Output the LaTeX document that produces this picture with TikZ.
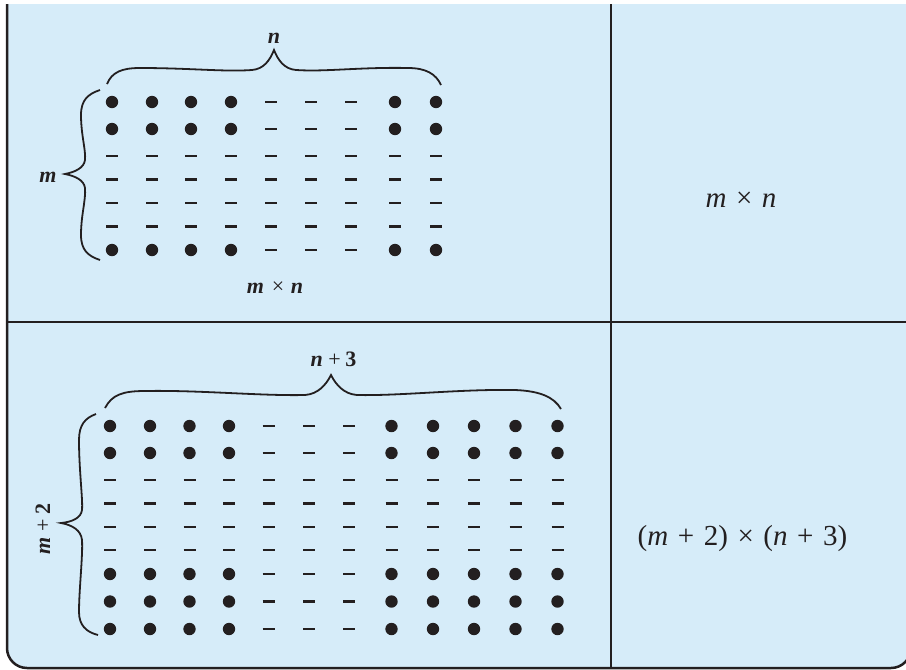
\documentclass[tikz,border=0pt]{standalone}
\usepackage{fontspec}
\setmainfont{Liberation Serif}
\definecolor{panel}{RGB}{214,236,249}
\definecolor{ink}{RGB}{35,31,32}
\begin{document}
\begin{tikzpicture}[x=1pt,y=-1pt,
  dot/.style={fill=ink},
  dashmark/.style={draw=ink, line width=2.4pt},
  bracepath/.style={draw=ink, line width=1.8pt},
  rule/.style={draw=ink, line width=2pt},
  biglabel/.style={font=\fontsize{29}{34}\selectfont, text=ink, inner sep=0pt, anchor=base},
  smalllabel/.style={font=\fontsize{22}{26}\selectfont\bfseries, text=ink, inner sep=0pt, anchor=base}]
\useasboundingbox (0,0) rectangle (906,670);
\begin{scope}
  \clip (0,4) rectangle (906,670);
  \draw[fill=panel, draw=ink, line width=2.5pt, rounded corners=20pt] (7,-40) rectangle (911,668);
\end{scope}
% dividers
\draw[rule] (611,4) -- (611,668);
\draw[rule] (7,322) -- (906,322);
% top grid
\foreach \y [count=\r] in {102,129,156,179.5,203,226.5,250} {
  \foreach \x [count=\c] in {112,152,191,231,271,311,351,395,436} {
    \pgfmathtruncatemacro\isdot{((\r<3)||(\r>6)) && ((\c<5)||(\c>7))}
    \ifnum\isdot=1 \fill[dot] (\x,\y) circle[radius=6.2pt];
    \else \draw[dashmark] (\x-6,\y) -- (\x+6,\y); \fi
  }
}
% bottom grid
\foreach \y [count=\r] in {426,453,480,503.5,527,550,574,601.5,629} {
  \foreach \x [count=\c] in {110,150,189.5,229,268.5,309,349,391.5,433,474,515.5,557.5} {
    \pgfmathtruncatemacro\isdot{((\r<3)||(\r>6)) && ((\c<5)||(\c>7))}
    \ifnum\isdot=1 \fill[dot] (\x,\y) circle[radius=6.2pt];
    \else \draw[dashmark] (\x-6,\y) -- (\x+6,\y); \fi
  }
}
% braces, top panel
\draw[bracepath] (107,84) .. controls (112,72) and (122,68) .. (140,68) .. controls (190,68) and (225,72) .. (252,70) .. controls (264,69) and (270,60) .. (274,50) .. controls (278,60) and (284,69) .. (296,70) .. controls (325,72) and (360,67) .. (408,68) .. controls (426,68) and (436,74) .. (441,85);
\draw[bracepath] (100,90) .. controls (88,94) and (81,100) .. (81,115) .. controls (81,135) and (86,150) .. (85,160) .. controls (84,168) and (75,172) .. (65,174) .. controls (75,176) and (84,180) .. (85,188) .. controls (86,200) and (81,215) .. (81,235) .. controls (81,250) and (88,256) .. (100,260);
% braces, bottom panel
\draw[bracepath] (105,408) .. controls (112,395) and (122,391) .. (145,391) .. controls (200,390) and (260,396) .. (305,395) .. controls (318,394) and (326,385) .. (331,375) .. controls (336,385) and (344,394) .. (357,395) .. controls (400,396) and (460,389) .. (515,390) .. controls (540,391) and (554,397) .. (561,409);
\draw[bracepath] (96,414) .. controls (85,418) and (79,425) .. (79,440) .. controls (79,470) and (83,500) .. (82,510) .. controls (81,518) and (72,522) .. (61,523) .. controls (72,525) and (81,530) .. (82,540) .. controls (83,555) and (79,590) .. (79,612) .. controls (79,625) and (86,632) .. (98,635);
% labels, left
\node[smalllabel] (ntop) at (274,43) {\itshape n};
\node[smalllabel] (mleft) at (48,182) {\itshape m};
\node[smalllabel] (mxn) at (275,293) {\itshape m\hspace{0.35em}\textnormal{×}\hspace{0.3em}n};
\node[smalllabel] (nplus) at (333.5,366) {\itshape n\hspace{0.25em}\upshape\textnormal{+}\hspace{0.2em}3};
\node[smalllabel, rotate=90] (mplus) at (50,529) {\itshape m\hspace{0.25em}\upshape\textnormal{+}\hspace{0.2em}2};
% labels, right
\node[biglabel] (area1) at (741,207) {\itshape m\upshape\hspace{0.33em}×\hspace{0.33em}\itshape n};
\node[biglabel] (area2) at (742.5,545) {(\itshape m\upshape\hspace{0.33em}+\hspace{0.33em}2)\hspace{0.33em}×\hspace{0.33em}(\itshape n\upshape\hspace{0.33em}+\hspace{0.33em}3)};
\end{tikzpicture}
\end{document}
